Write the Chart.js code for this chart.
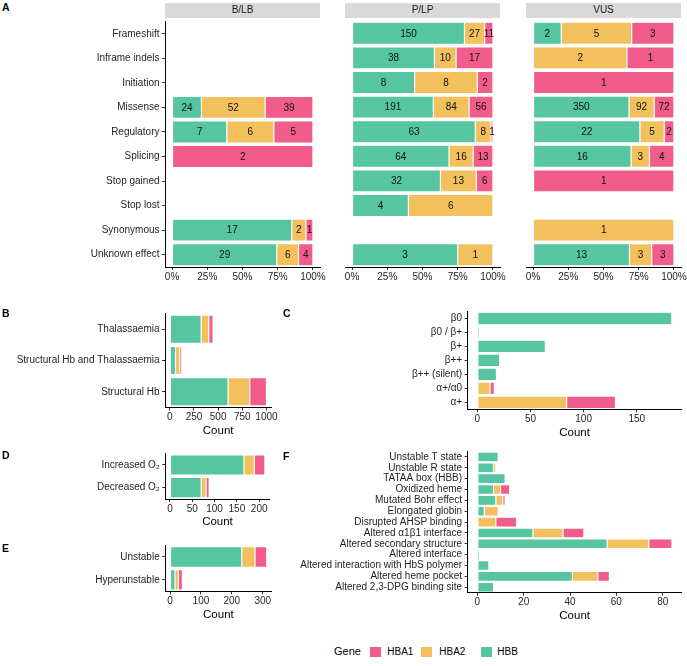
<!DOCTYPE html>
<html><head><meta charset="utf-8">
<script src="https://cdn.jsdelivr.net/npm/chart.js@4/dist/chart.umd.min.js"></script>
<style>
body{margin:0;background:#fff;}
#wrap{position:relative;width:687px;height:666px;overflow:hidden;font-family:"Liberation Sans",Arial,Helvetica,sans-serif;background:#fff;}
canvas{position:absolute;}
.strip{position:absolute;background:#d9d9d9;color:#1a1a1a;font-size:10px;text-align:center;}
.letter{position:absolute;font-weight:bold;font-size:10.5px;line-height:10px;color:#000;}
.leg{position:absolute;font-size:10px;line-height:12px;color:#000;}
.key{position:absolute;width:11px;height:10px;}
</style></head><body><div id="wrap"></div>
<script>
// ---------- DATA ----------
const GENE_COLORS = {HBB:'#55C69F', HBA2:'#F2C05C', HBA1:'#F25C8A'};
const legendGenes = ['HBA1','HBA2','HBB'];

const consequenceLabels = ['Frameshift','Inframe indels','Initiation','Missense','Regulatory','Splicing','Stop gained','Stop lost','Synonymous','Unknown effect'];
const facetLabels = ['B/LB','P/LP','VUS'];
const blb_HBB  = [null,null,null,24,7,0,null,null,17,29];
const blb_HBA2 = [null,null,null,52,6,0,null,null,2,6];
const blb_HBA1 = [null,null,null,39,5,2,null,null,1,4];
const plp_HBB  = [150,38,8,191,63,64,32,4,null,3];
const plp_HBA2 = [27,10,8,84,8,16,13,6,null,1];
const plp_HBA1 = [11,17,2,56,1,13,6,0,null,0];
const vus_HBB  = [2,0,0,350,22,16,0,null,0,13];
const vus_HBA2 = [5,2,0,92,5,3,0,null,1,3];
const vus_HBA1 = [3,1,1,72,2,4,1,null,0,3];
const pctTicks = [0,25,50,75,100];

const phenotypeLabels = ['Thalassaemia','Structural Hb and Thalassaemia','Structural Hb'];
const phen_HBB  = [324,59,603];
const phen_HBA2 = [79,44,224];
const phen_HBA1 = [45,21,173];
const phenTicks = [0,250,500,750,1000];

const thalLabels = ['β0','β0 / β+','β+','β++','β++ (silent)','α+/α0','α+'];
const thal_HBB  = [183,2,64,21,18,0,0];
const thal_HBA2 = [0,0,0,0,0,12,84];
const thal_HBA1 = [0,0,0,0,0,4,46];
const thalTicks = [0,50,100,150];

const oxyLabels = ['Increased O₂','Decreased O₂'];
const oxy_HBB  = [166,70];
const oxy_HBA2 = [23,11];
const oxy_HBA1 = [24,7];
const oxyTicks = [0,50,100,150,200];

const stabLabels = ['Unstable','Hyperunstable'];
const stab_HBB  = [232,16];
const stab_HBA2 = [43,11];
const stab_HBA1 = [38,13];
const stabTicks = [0,100,200,300];

const mechLabels = ['Unstable T state','Unstable R state','TATAA box (HBB)','Oxidized heme','Mutated Bohr effect','Elongated globin','Disrupted AHSP binding','Altered α1β1 interface','Altered secondary structure','Altered interface','Altered interaction with HbS polymer','Altered heme pocket','Altered 2,3-DPG binding site'];
const mech_HBB  = [9,7,12,7,8,3,0,24,56,1,5,41,7];
const mech_HBA2 = [0,1,0,3,3,6,8,13,18,0,0,11,0];
const mech_HBA1 = [0,0,0,4,1,0,9,9,10,0,0,5,0];
const mechTicks = [0,20,40,60,80];

// ---------- RENDER ----------
const FONT = '"Liberation Sans", Arial, Helvetica, sans-serif';
const TXT = '#1f1f1f';
Chart.defaults.font.family = FONT;
Chart.defaults.font.size = 10;
Chart.defaults.color = TXT;
const wrap = document.getElementById('wrap');

function datasetsFor(hbb, hba2, hba1, asPercent){
  const series = [['HBB',hbb],['HBA2',hba2],['HBA1',hba1]];
  const totals = hbb.map((_,i)=>(hbb[i]||0)+(hba2[i]||0)+(hba1[i]||0));
  return series.map(([g,arr])=>({
    label:g, counts:arr,
    data: arr.map((v,i)=> !v ? null : (asPercent ? v/totals[i]*100 : v)),
    backgroundColor: GENE_COLORS[g],
    borderColor:'#ffffff', borderWidth:0.6, borderSkipped:false,
    categoryPercentage:0.9, barPercentage:1
  }));
}
function maxTotal(a,b,c){ return Math.max(...a.map((_,i)=>(a[i]||0)+(b[i]||0)+(c[i]||0))); }

const countLabels = {
  id:'countLabels',
  afterDatasetsDraw(chart){
    if(!chart.options.plugins.countLabels || !chart.options.plugins.countLabels.show) return;
    const ctx = chart.ctx;
    ctx.save();
    ctx.font = '10px ' + FONT;
    ctx.fillStyle = '#111';
    ctx.textAlign = 'center';
    ctx.textBaseline = 'middle';
    chart.data.datasets.forEach((ds,di)=>{
      const meta = chart.getDatasetMeta(di);
      meta.data.forEach((el,i)=>{
        const n = ds.counts[i];
        if(!n) return;
        const p = el.getProps(['x','base','y'], true);
        ctx.fillText(String(n), (p.x+p.base)/2, p.y+0.5);
      });
    });
    ctx.restore();
  }
};

function panel(cfg){
  const {aL,aR,aT,aB,xH,showY,labels,datasets,xmin,xmax,ticks,fmt,title,showCounts} = cfg;
  const canvasLeft = showY ? cfg.canvasLeft : Math.floor(aL-8);
  const yW = showY ? aL - canvasLeft : 0;
  const padL = showY ? 0 : aL - canvasLeft;
  const canvasTop = Math.floor(aT-8);
  const padT = aT - canvasTop;
  const W = Math.ceil(aR - canvasLeft + 12);
  const padR = W - (aR - canvasLeft);
  const H = Math.ceil(aB + xH - canvasTop + 2);
  const padB = H - (aB + xH - canvasTop);
  const c = document.createElement('canvas');
  c.width = W; c.height = H;
  c.style.left = canvasLeft+'px'; c.style.top = canvasTop+'px';
  c.style.width = W+'px'; c.style.height = H+'px';
  wrap.appendChild(c);
  new Chart(c, {
    type:'bar',
    data:{labels, datasets},
    plugins:[countLabels],
    options:{
      indexAxis:'y', responsive:false, animation:false, devicePixelRatio:1,
      layout:{padding:{left:padL,right:padR,top:padT,bottom:padB}},
      plugins:{legend:{display:false}, tooltip:{enabled:false}, countLabels:{show:!!showCounts}},
      scales:{
        x:{
          type:'linear', stacked:true, position:'bottom', min:xmin, max:xmax,
          afterBuildTicks:s=>{ s.ticks = ticks.map(v=>({value:v})); },
          afterFit:s=>{ s.height = xH; },
          ticks:{autoSkip:false, maxRotation:0, padding:1, color:TXT, font:{size:10}, callback:v=>fmt(v)},
          grid:{display:true, drawOnChartArea:false, drawTicks:true, tickLength:3, tickColor:'#333', tickWidth:1},
          border:{display:true, color:'#000', width:1},
          title:{display:!!title, text:title||'', color:'#000', font:{size:11.5}, padding:{top:0,bottom:0}}
        },
        y:{
          type:'category', stacked:true, offset:true, display:showY,
          afterFit:s=>{ s.width = yW; },
          ticks:{autoSkip:false, padding:2.5, color:TXT, font:{size:10}},
          grid:{display:true, offset:false, drawOnChartArea:false, drawTicks:true, tickLength:3, tickColor:'#333', tickWidth:1},
          border:{display:true, color:'#000', width:1}
        }
      }
    }
  });
}

// Panel A facets
const pct = v => v + '%';
const facetData = [
  [blb_HBB, blb_HBA2, blb_HBA1, 165, 320, true],
  [plp_HBB, plp_HBA2, plp_HBA1, 345, 500, false],
  [vus_HBB, vus_HBA2, vus_HBA1, 526, 681, false]
];
facetData.forEach(([a,b,c,aL,aR,showY],k)=>{
  panel({aL, aR, aT:21, aB:267, xH:20, showY, canvasLeft:0, labels:consequenceLabels,
    datasets:datasetsFor(a,b,c,true), xmin:-5, xmax:105, ticks:pctTicks, fmt:pct, showCounts:true});
  const s = document.createElement('div');
  s.className = 'strip';
  s.style.left = aL+'px'; s.style.width = (aR-aL)+'px';
  s.style.top = '3px'; s.style.height = '14.5px'; s.style.lineHeight = '14.5px';
  s.textContent = facetLabels[k];
  wrap.appendChild(s);
});

const num = v => String(v);
function countPanel(hbb,hba2,hba1,labels,ticks,aL,aR,aT,aB,canvasLeft){
  const m = maxTotal(hbb,hba2,hba1);
  panel({aL,aR,aT,aB,xH:30,showY:true,canvasLeft,labels,
    datasets:datasetsFor(hbb,hba2,hba1,false), xmin:-0.05*m, xmax:1.05*m, ticks, fmt:num, title:'Count'});
}
countPanel(phen_HBB,phen_HBA2,phen_HBA1,phenotypeLabels,phenTicks,165,271.3,313.5,407.5,0);
countPanel(thal_HBB,thal_HBA2,thal_HBA1,thalLabels,thalTicks,467.6,681.6,311.3,409.3,300);
countPanel(oxy_HBB,oxy_HBA2,oxy_HBA1,oxyLabels,oxyTicks,165.25,269.7,453.65,499.05,0);
countPanel(stab_HBB,stab_HBA2,stab_HBA1,stabLabels,stabTicks,165.2,271.6,545.15,591.35,0);
countPanel(mech_HBB,mech_HBA2,mech_HBA1,mechLabels,mechTicks,467.6,681.7,451.3,592.7,270);

// Panel letters
[['A',2,2],['B',2,308],['C',283,308],['D',2,450],['E',2,542.5],['F',283,450.5]].forEach(([t,x,y])=>{
  const d = document.createElement('div'); d.className='letter';
  d.style.left=x+'px'; d.style.top=y+'px'; d.textContent=t; wrap.appendChild(d);
});

// Legend
const g = document.createElement('div'); g.className='leg';
g.style.left='334px'; g.style.top='645px'; g.style.fontSize='11px'; g.style.lineHeight='13px'; g.textContent='Gene';
wrap.appendChild(g);
const keyX = {HBA1:[370,387.3], HBA2:[420.7,439.3], HBB:[480.7,497.3]};
legendGenes.forEach(gn=>{
  const k = document.createElement('div'); k.className='key';
  k.style.left=keyX[gn][0]+'px'; k.style.top='646.7px'; k.style.background=GENE_COLORS[gn];
  wrap.appendChild(k);
  const t = document.createElement('div'); t.className='leg';
  t.style.left=keyX[gn][1]+'px'; t.style.top='645.7px'; t.textContent=gn;
  wrap.appendChild(t);
});
</script></body></html>
